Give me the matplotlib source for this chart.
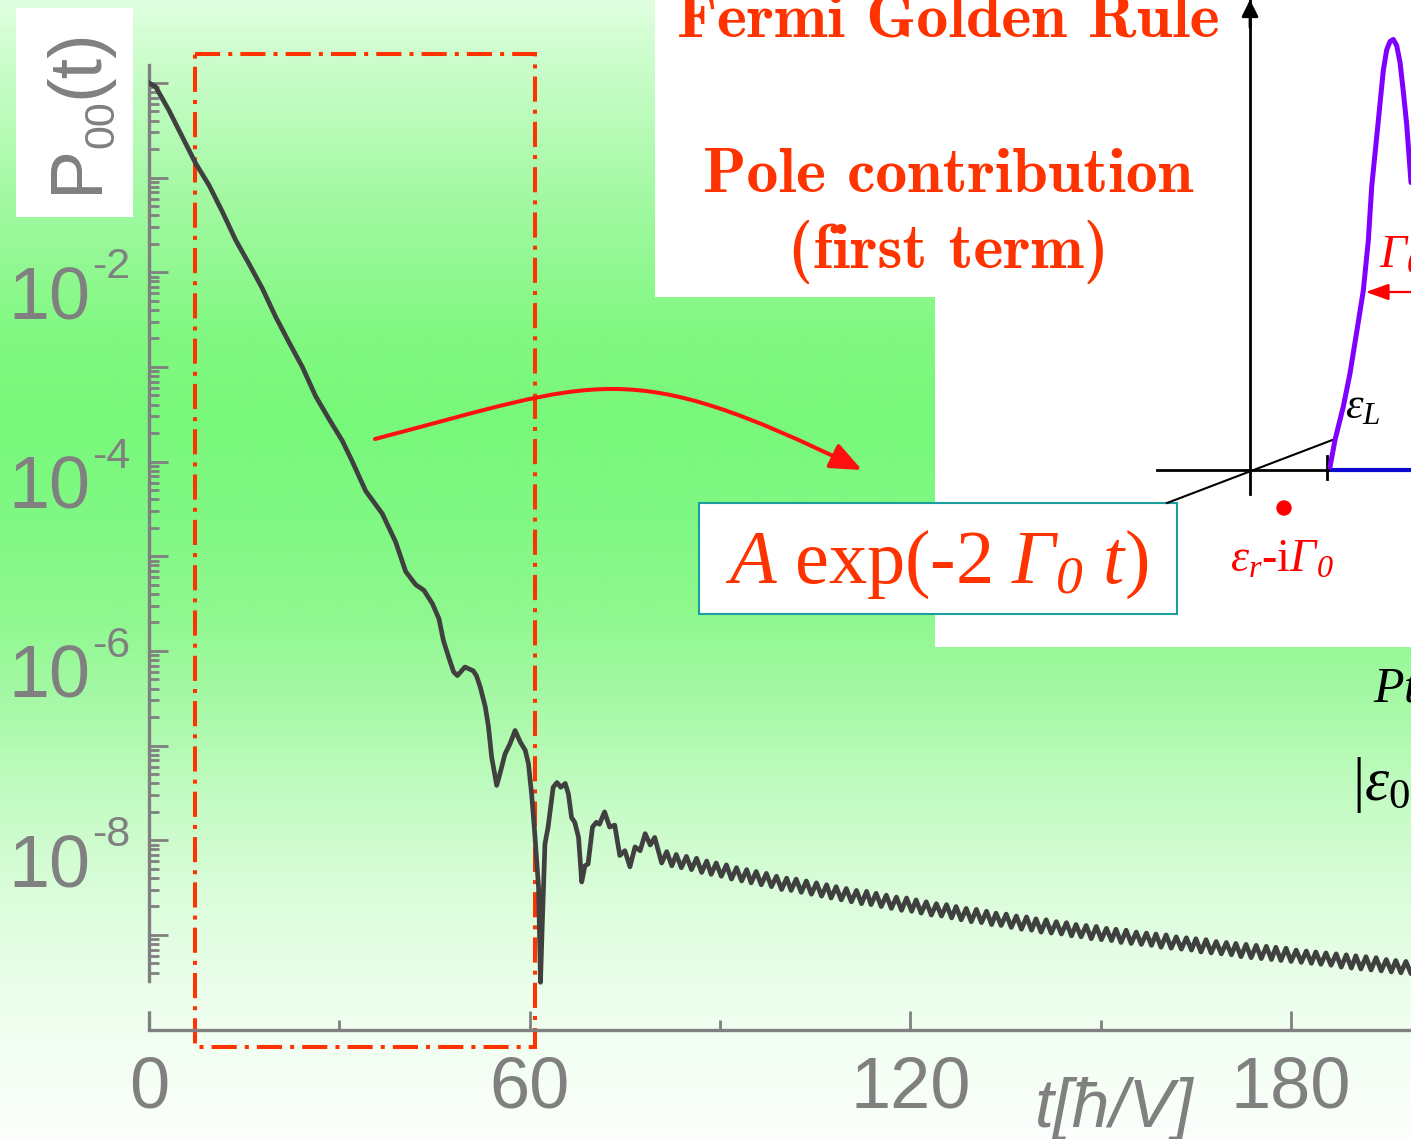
import numpy as np
import matplotlib
matplotlib.use("Agg")
import matplotlib.pyplot as plt
from matplotlib import transforms
from matplotlib.patches import Rectangle, FancyArrowPatch, Circle
from matplotlib.path import Path
from matplotlib.ticker import FixedLocator, NullFormatter

plt.rcParams['font.family'] = ['Liberation Sans', 'DejaVu Sans']
plt.rcParams['mathtext.fontset'] = 'custom'
plt.rcParams['mathtext.rm'] = 'Liberation Serif'
plt.rcParams['mathtext.it'] = 'Liberation Serif:italic'
plt.rcParams['mathtext.bf'] = 'Liberation Serif:bold'
plt.rcParams['mathtext.sf'] = 'Liberation Serif:italic'

# ---------------- data ----------------
# survival probability P00(t): time and log10(P00)
early_t = [0.0, 1.05, 3.15, 5.25, 7.36, 9.46, 11.56, 13.66, 15.76, 17.86, 19.96, 22.07,
           24.17, 26.27, 28.37, 30.47, 32.05, 34.15, 36.77, 38.88, 40.45, 42.03, 43.34,
           44.66, 45.7, 46.4, 47.2, 48.0, 48.6, 49.8, 51.1, 51.6, 52.2, 53.0, 53.5, 54.0,
           54.8, 55.3, 56.1, 56.9, 57.7, 58.5, 59.3, 59.8, 60.3, 60.8, 61.4, 61.7, 62.0,
           62.4, 62.9, 63.7, 64.3, 64.9, 65.6, 66.1, 66.6, 67.1, 67.7, 68.2, 68.7, 69.2,
           69.9, 70.5, 71.0, 71.8, 72.6, 73.4, 74.2, 75.0, 75.8, 76.6, 77.4, 78.2, 79.0, 79.7]
early_logp = [0.00, -0.04, -0.29, -0.57, -0.85, -1.08, -1.36, -1.66, -1.91, -2.17, -2.47, -2.74,
              -3.00, -3.31, -3.55, -3.78, -4.00, -4.31, -4.55, -4.85, -5.16, -5.30, -5.36,
              -5.50, -5.66, -5.89, -6.06, -6.22, -6.26, -6.17, -6.21, -6.26, -6.38, -6.59, -6.80, -7.12,
              -7.42, -7.30, -7.09, -6.98, -6.84, -6.96, -7.05, -7.19, -7.51, -7.93, -8.50, -9.50, -8.85,
              -8.04, -7.86, -7.44, -7.39, -7.44, -7.40, -7.51, -7.76, -7.81, -7.97, -8.44, -8.27, -8.25,
              -7.86, -7.81, -7.83, -7.70, -7.86, -7.84, -8.16, -8.11, -8.28, -8.07, -8.11, -7.93, -8.05, -7.97]

tail_t = [80.8, 81.6, 82.4, 83.1, 83.9, 84.7, 85.5, 86.3, 87.1, 87.9, 88.6, 89.4,
          90.2, 91.0, 91.8, 92.6, 93.4, 94.2, 94.9, 95.7, 96.5, 97.3, 98.1, 98.9, 99.7,
          100.5, 101.2, 102.0, 102.8, 103.6, 104.4, 105.2, 106.0, 106.8, 107.5, 108.3, 109.1, 109.9,
          110.7, 111.5, 112.3, 113.1, 113.8, 114.6, 115.4, 116.2, 117.0, 117.8, 118.6, 119.4, 120.2,
          120.9, 121.7, 122.5, 123.3, 124.1, 124.9, 125.7, 126.5, 127.2, 128.0, 128.8, 129.6, 130.4,
          131.2, 132.0, 132.8, 133.5, 134.3, 135.1, 135.9, 136.7, 137.5, 138.3, 139.1, 139.8,
          140.6, 141.4, 142.2, 143.0, 143.8, 144.6, 145.4, 146.1, 146.9, 147.7, 148.5, 149.3, 150.1,
          150.9, 151.7, 152.4, 153.2, 154.0, 154.8, 155.6, 156.4, 157.2, 158.0, 158.7, 159.5, 160.3,
          161.1, 161.9, 162.7, 163.5, 164.3, 165.0, 165.8, 166.6, 167.4, 168.2, 169.0, 169.8,
          170.6, 171.3, 172.1, 172.9, 173.7, 174.5, 175.3, 176.1, 176.9, 177.6, 178.4, 179.2, 180.0,
          180.8, 181.6, 182.4, 183.2, 183.9, 184.7, 185.5, 186.3, 187.1, 187.9, 188.7, 189.5, 190.2,
          191.0, 191.8, 192.6, 193.4, 194.2, 195.0, 195.8, 196.5, 197.3, 198.1, 198.9, 199.7, 200.5]
tail_logp = [-8.24, -8.12, -8.27, -8.15, -8.29, -8.17, -8.31, -8.19, -8.34, -8.22, -8.36, -8.24,
             -8.38, -8.26, -8.41, -8.29, -8.43, -8.31, -8.45, -8.33, -8.47, -8.35, -8.49, -8.38, -8.52,
             -8.40, -8.53, -8.41, -8.55, -8.43, -8.57, -8.45, -8.59, -8.47, -8.61, -8.49, -8.63, -8.51,
             -8.65, -8.53, -8.67, -8.54, -8.68, -8.56, -8.70, -8.58, -8.72, -8.60, -8.74, -8.61, -8.75,
             -8.63, -8.77, -8.65, -8.79, -8.67, -8.80, -8.68, -8.82, -8.70, -8.84, -8.72, -8.86, -8.73,
             -8.87, -8.75, -8.89, -8.77, -8.90, -8.78, -8.92, -8.80, -8.94, -8.81, -8.95, -8.83,
             -8.97, -8.84, -8.98, -8.86, -8.99, -8.87, -9.01, -8.89, -9.02, -8.90, -9.04, -8.91, -9.05,
             -8.93, -9.06, -8.94, -9.08, -8.95, -9.09, -8.97, -9.10, -8.98, -9.11, -8.99, -9.13, -9.00,
             -9.14, -9.02, -9.15, -9.03, -9.16, -9.04, -9.18, -9.05, -9.19, -9.07, -9.20, -9.08,
             -9.21, -9.09, -9.23, -9.10, -9.24, -9.11, -9.25, -9.12, -9.26, -9.13, -9.27, -9.14, -9.28,
             -9.16, -9.29, -9.17, -9.30, -9.18, -9.31, -9.19, -9.32, -9.20, -9.34, -9.21, -9.35, -9.22,
             -9.36, -9.23, -9.37, -9.24, -9.38, -9.26, -9.39, -9.27, -9.40, -9.28, -9.41, -9.29, -9.42]

x_major_ticks = [0, 60, 120, 180]
x_minor_ticks = [30, 90, 150]
x_tick_labels = ['0', '60', '120', '180']
y_decades = [0, -1, -2, -3, -4, -5, -6, -7, -8, -9]
y_labelled_decades = [-2, -4, -6, -8]

# schematic inset (density of states sketch), in picture pixel units
dos_x = [1330, 1335, 1343.3, 1350, 1356.7, 1363.3, 1368.3, 1371.7, 1376.7, 1380, 1383.3,
         1386.7, 1390, 1393.3, 1396.7, 1400, 1403.3, 1406.7, 1411]
dos_y = [467, 440, 406.6, 373.4, 332, 290.5, 240.7, 186.7, 136.9, 103.7, 70.5,
         49.8, 41.5, 39.4, 45.6, 62.2, 91.3, 124.5, 182.6]

# ---------------- styling ----------------
W, H, DPI = 1411, 1139, 100
GRAY = '#808080'
ORANGE_RED = '#ff3300'
CURVE = '#404040'

fig = plt.figure(figsize=(W / DPI, H / DPI), dpi=DPI)

# background (pixel coordinates)
bg = fig.add_axes([0, 0, 1, 1], zorder=0)
bg.set_xlim(0, W)
bg.set_ylim(H, 0)
bg.axis('off')

stop_y = [0, 60, 200, 330, 420, 520, 620, 700, 800, 900, 1000, 1139]
stop_c = ['#e0ffe0', '#ccfdcc', '#a2f9a2', '#82f882', '#78f87a', '#80f884', '#90f890',
          '#a6f9a6', '#c4fbc4', '#dcfddc', '#edfeed', '#fcfffc']
rgb = np.array([matplotlib.colors.to_rgb(c) for c in stop_c])
yy = np.arange(H) + 0.5
grad = np.stack([np.interp(yy, stop_y, rgb[:, k]) for k in range(3)], axis=-1)[:, None, :]
bg.imshow(grad, extent=(0, W, H, 0), aspect='auto', zorder=0, interpolation='bilinear')

# white panels
bg.add_patch(Rectangle((655, 0), W - 655, 297, fc='white', ec='none', zorder=1))
bg.add_patch(Rectangle((935, 0), W - 935, 647, fc='white', ec='none', zorder=1))
bg.add_patch(Rectangle((16, 8), 117, 209, fc='white', ec='none', zorder=1))

# y label pieces P_00(t)
bg.text(97, 193, 'P', rotation=90, rotation_mode='anchor', ha='left', va='baseline',
        fontsize=53, color=GRAY, zorder=3)
bg.text(113, 148, '00', rotation=90, rotation_mode='anchor', ha='left', va='baseline',
        fontsize=31, color=GRAY, zorder=3)
bg.text(97, 98, '(t)', rotation=90, rotation_mode='anchor', ha='left', va='baseline',
        fontsize=53, color=GRAY, zorder=3)

# x label
bg.text(1035, 1127, 't[ħ/V]', fontsize=49, style='italic', color=GRAY,
        ha='left', va='baseline', zorder=3)

# red dash-dot window
bg.add_patch(Rectangle((195, 54), 340, 993, fill=False, ec=ORANGE_RED, lw=2.9,
                       linestyle=(0, (6.25, 2.0, 1.0, 2.0)), zorder=2))

# curved red arrow (cubic Bezier)
arrow_path = Path([(375, 439), (600, 380), (627, 355), (862, 470)],
                  [Path.MOVETO, Path.CURVE4, Path.CURVE4, Path.CURVE4])
bg.add_patch(FancyArrowPatch(path=arrow_path,
                             arrowstyle='-|>,head_length=1.9,head_width=0.8', mutation_scale=10,
                             color='#ff1010', lw=2.9, zorder=4))

# texts in the top panel
for txt, y in [('Fermi Golden Rule', 38), ('Pole contribution', 192), ('(first term)', 268)]:
    bg.text(948, y, txt, ha='center', va='baseline', fontsize=46, family='cmb10',
            color=ORANGE_RED, zorder=3)

# A exp(-2 Γ0 t) box
bg.add_patch(Rectangle((699, 503), 478, 111, fc='white', ec='#1a9e9e', lw=1.5, zorder=3))
bg.text(937, 583, r'$A\ \mathrm{exp}(\text{-}2\ \mathsf{\Gamma_0}\ t)$', ha='center',
        va='baseline', fontsize=55, color=ORANGE_RED, zorder=4)

# inset sketch
bg.plot([1250, 1250], [0, 494], color='black', lw=2.0, zorder=3)
bg.add_patch(FancyArrowPatch((1250, 30), (1250, -3), arrowstyle='-|>,head_length=1.0,head_width=0.5',
                             mutation_scale=10, color='black', lw=2.0, zorder=3))
bg.plot([1157, 1330], [470, 470], color='black', lw=2.0, zorder=3)
bg.plot([1330, W + 5], [470, 470], color='#0a0ad0', lw=3.0, zorder=3, solid_capstyle='butt')
bg.plot([1327, 1327], [456, 479], color='black', lw=2.0, zorder=3)
bg.plot([1167, 1335], [503, 439], color='black', lw=1.5, zorder=3)
bg.plot(dos_x, dos_y, color='#8000ff', lw=3.6, zorder=4, solid_capstyle='round')
bg.add_patch(Circle((1284, 508), 7, color='#ff0000', zorder=4))
bg.add_patch(FancyArrowPatch((1420, 292), (1363, 292), arrowstyle='-|>,head_length=1.4,head_width=0.5',
                             mutation_scale=10, color='#ff0000', lw=1.6, zorder=4))
bg.text(1282, 572, r'$\varepsilon_r\text{-i}\mathsf{\Gamma_0}$', ha='center', va='baseline',
        fontsize=33, color='#ff0000', zorder=4)
bg.text(1345, 418, r'$\varepsilon_L$', ha='left', va='baseline', fontsize=32, color='black', zorder=4)
bg.text(1379, 268, r'$\mathsf{\Gamma_0}$', ha='left', va='baseline', fontsize=34, color='#ff0000', zorder=4)
bg.text(1373, 702, r'$Pt$', ha='left', va='baseline', fontsize=36, color='black', zorder=4)
bg.text(1352, 800, r'$|\varepsilon_0$', ha='left', va='baseline', fontsize=44, color='black', zorder=4)

# ---------------- main axes ----------------
x0_px, xaxis_px, top_px = 149, 1029.6, 65
ax = fig.add_axes([x0_px / W, (H - xaxis_px) / H, 1 - x0_px / W, (xaxis_px - top_px) / H], zorder=1)
ax.patch.set_alpha(0)
ax.set_yscale('log')
ax.set_xlim(0, (W - x0_px) / 6.345)
ax.set_ylim(1e-10, 10 ** 0.19)

t_all = np.array(early_t + tail_t)
p_all = 10.0 ** np.array(early_logp + tail_logp)
ax.plot(t_all, p_all, color=CURVE, lw=3.4, solid_joinstyle='round', zorder=3)

for s in ['top', 'right']:
    ax.spines[s].set_visible(False)
for s in ['left', 'bottom']:
    ax.spines[s].set_color(GRAY)
    ax.spines[s].set_linewidth(2.4)
ax.spines['left'].set_bounds(10 ** -9.49, 10 ** 0.19)
ax.plot([0, 0], [1e-10, 10 ** -9.8], color=GRAY, lw=2.4, clip_on=False, solid_capstyle='butt')

ax.xaxis.set_major_locator(FixedLocator(x_major_ticks))
ax.xaxis.set_minor_locator(FixedLocator(x_minor_ticks))
ax.set_xticklabels(x_tick_labels)
ax.tick_params(axis='x', which='major', direction='in', length=13.7, width=2.0, color=GRAY,
               labelsize=52, labelcolor=GRAY, pad=19)
ax.tick_params(axis='x', which='minor', direction='in', length=7.2, width=2.0, color=GRAY)

major_y = [10.0 ** d for d in y_decades]
minor_y = [s * 10.0 ** d for d in range(-10, 0) for s in range(2, 10) if s * 10.0 ** d >= 10 ** -9.49]
ax.yaxis.set_major_locator(FixedLocator(major_y))
ax.yaxis.set_minor_locator(FixedLocator(minor_y))
ax.yaxis.set_major_formatter(NullFormatter())
ax.yaxis.set_minor_formatter(NullFormatter())
ax.tick_params(axis='y', which='major', direction='in', length=13.7, width=2.0, color=GRAY)
ax.tick_params(axis='y', which='minor', direction='in', length=7.2, width=2.0, color=GRAY)

blend = transforms.blended_transform_factory(fig.transFigure, ax.transData)
off_base = transforms.ScaledTranslation(0, -47 / DPI, fig.dpi_scale_trans)
off_exp = transforms.ScaledTranslation(0, -6 / DPI, fig.dpi_scale_trans)
for d in y_labelled_decades:
    ax.text(8 / W, 10.0 ** d, '10', transform=blend + off_base, fontsize=53, color=GRAY,
            ha='left', va='baseline', clip_on=False)
    ax.text(92 / W, 10.0 ** d, '-%d' % (-d), transform=blend + off_exp, fontsize=31, color=GRAY,
            ha='left', va='baseline', clip_on=False)

fig.savefig('out.png', dpi=DPI)
